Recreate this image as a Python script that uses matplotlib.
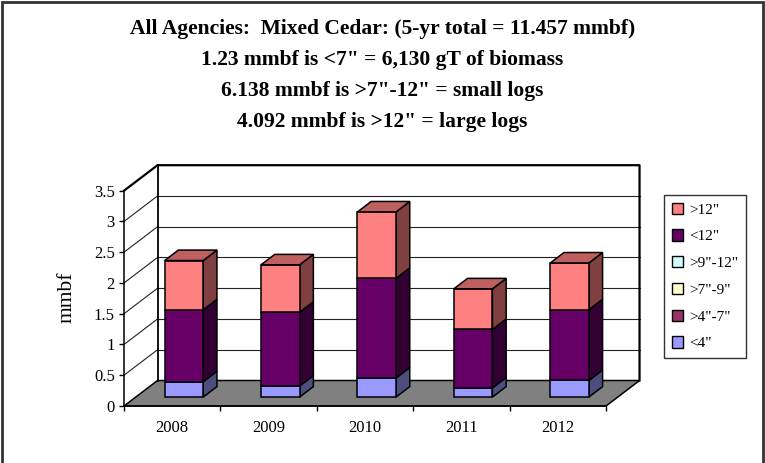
import matplotlib.pyplot as plt
from matplotlib.patches import Polygon, Patch, Rectangle
from matplotlib.colors import to_rgb

# data (mmbf per year, stacked bottom -> top)
years = ['2008', '2009', '2010', '2011', '2012']
series_names = ['<4"', '>4"-7"', '>7"-9"', '>9"-12"', '<12"', '>12"']
under_4 = [0.25, 0.18, 0.31, 0.15, 0.27]
from_4_to_7 = [0, 0, 0, 0, 0]
from_7_to_9 = [0, 0, 0, 0, 0]
from_9_to_12 = [0, 0, 0, 0, 0]
under_12 = [1.17, 1.20, 1.62, 0.95, 1.15]
over_12 = [0.80, 0.77, 1.08, 0.66, 0.76]
series_values = [under_4, from_4_to_7, from_7_to_9, from_9_to_12, under_12, over_12]
front_colors = ['#9999FF', '#993366', '#FFFFCC', '#CCFFFF', '#660066', '#FF8080']

yticks = [0, 0.5, 1, 1.5, 2, 2.5, 3, 3.5]
ytick_labels = ['0', '0.5', '1', '1.5', '2', '2.5', '3', '3.5']
title_lines = ['All Agencies:  Mixed Cedar: (5-yr total = 11.457 mmbf)',
               '1.23 mmbf is <7" = 6,130 gT of biomass',
               '6.138 mmbf is >7"-12" = small logs',
               '4.092 mmbf is >12" = large logs']

plt.rcParams['font.family'] = ['Liberation Serif', 'DejaVu Serif']

# fake 3d: depth offset of the floor in data units, bar half width and depth range
DX = 0.3475
DY = 0.4146
HW = 0.2
D0, D1 = 0.35, 0.76
YMAX = 3.5


def proj(u, v, d):
    return (u + d * DX, v + d * DY)


def shade(c, k):
    r, g, b = to_rgb(c)
    return (r * k, g * k, b * k)


fig = plt.figure(figsize=(7.65, 4.63), dpi=100)
ax = fig.add_axes([0.1621, 0.1231, 0.6301, 0.4650])
ax.set_xlim(0, len(years))
ax.set_ylim(0, YMAX)
ax.patch.set_visible(False)
for s in ['top', 'right']:
    ax.spines[s].set_visible(False)
for s in ['left', 'bottom']:
    ax.spines[s].set_linewidth(1.1)
    ax.spines[s].set_zorder(5)

n = len(years)

# floor
floor = [proj(0, 0, 0), proj(n, 0, 0), proj(n, 0, 1), proj(0, 0, 1)]
ax.add_patch(Polygon(floor, closed=True, facecolor='#808080', edgecolor='black',
                     lw=1.1, clip_on=False, zorder=1))

# gridlines on back wall and left wall
for v in yticks[1:-1]:
    ax.plot([0, DX], [v, v + DY], color='#222222', lw=0.8, clip_on=False, zorder=1.5)
    ax.plot([DX, n + DX], [v + DY, v + DY], color='#222222', lw=0.8, clip_on=False, zorder=1.5)

# back wall frame
ax.plot([0, DX, n + DX, n + DX], [YMAX, YMAX + DY, YMAX + DY, DY], color='black', lw=1.6,
        clip_on=False, zorder=2)
ax.plot([DX, DX], [DY, YMAX + DY], color='black', lw=1.3, clip_on=False, zorder=2)

# stacked 3d bars
for i in range(n):
    x0, x1 = i + 0.5 - HW, i + 0.5 + HW
    base = 0
    nonzero = [s for s in range(len(series_values)) if series_values[s][i] > 0]
    for s in nonzero:
        v0 = base
        v1 = base + series_values[s][i]
        col = front_colors[s]
        side = [proj(x1, v0, D0), proj(x1, v0, D1), proj(x1, v1, D1), proj(x1, v1, D0)]
        front = [proj(x0, v0, D0), proj(x1, v0, D0), proj(x1, v1, D0), proj(x0, v1, D0)]
        ax.add_patch(Polygon(side, closed=True, facecolor=shade(col, 0.5), edgecolor='black',
                             lw=1.1, clip_on=False, zorder=3, joinstyle='miter'))
        ax.add_patch(Polygon(front, closed=True, facecolor=col, edgecolor='black',
                             lw=1.1, clip_on=False, zorder=3, joinstyle='miter'))
        if s == nonzero[-1]:
            top = [proj(x0, v1, D0), proj(x1, v1, D0), proj(x1, v1, D1), proj(x0, v1, D1)]
            ax.add_patch(Polygon(top, closed=True, facecolor=shade(col, 0.75), edgecolor='black',
                                 lw=1.1, clip_on=False, zorder=3, joinstyle='miter'))
        base = v1

# ticks
ax.set_yticks(yticks)
ax.set_yticklabels(ytick_labels, fontsize=12)
ax.set_xticks(range(n + 1))
ax.set_xticklabels([])
ax.set_xticks([i + 0.5 for i in range(n)], minor=True)
ax.set_xticklabels(years, minor=True, fontsize=12)
ax.tick_params(axis='both', which='major', direction='out', length=3.6, width=1.0, pad=3)
ax.tick_params(axis='x', which='minor', length=0, pad=10)

fig.text(0.088, 0.357, 'mmbf', rotation=90, ha='center', va='center', fontsize=15.5)

# title
title_y = [29, 60, 91, 122]
for line, y in zip(title_lines, title_y):
    fig.text(0.5, 1 - y / 463, line, ha='center', va='center', fontsize=15.5, fontweight='bold')

# legend, top entry first
handles = [Patch(facecolor=front_colors[s], edgecolor='black', lw=1.0)
           for s in reversed(range(len(series_names)))]
labels = [series_names[s] for s in reversed(range(len(series_names)))]
leg = fig.legend(handles, labels, loc='upper left', bbox_to_anchor=(664 / 765, 1 - 195 / 463),
                 fontsize=11, frameon=True, fancybox=False, edgecolor='black',
                 handlelength=0.75, handleheight=0.75, handletextpad=0.4,
                 labelspacing=0.84, borderpad=0.5, borderaxespad=0)
leg.get_frame().set_linewidth(1.0)

# outer chart border
fig.patches.append(Rectangle((0.002, -0.05), 0.996, 1.046, transform=fig.transFigure,
                             fill=False, edgecolor='#333333', lw=2))

fig.savefig('out.png', dpi=100)
